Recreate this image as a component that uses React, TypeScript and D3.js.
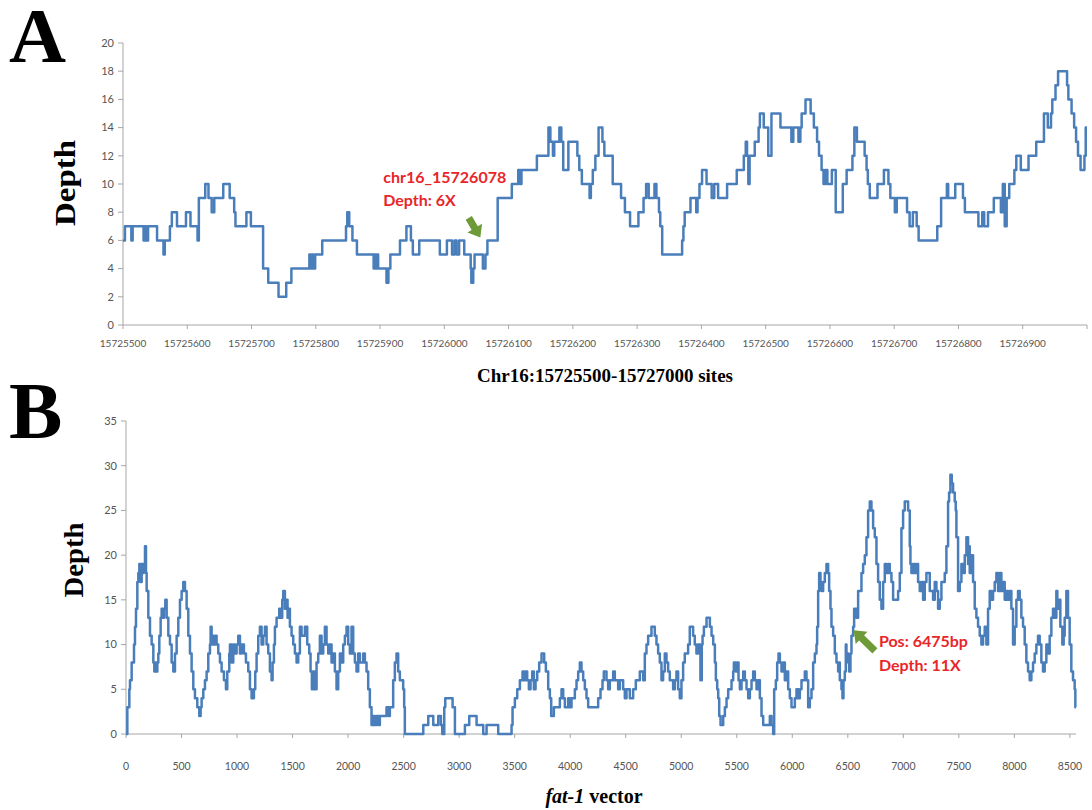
import React from 'react';
import * as d3 from 'd3';

// ---------- Panel A data (chr16 region) ----------
const START_A = 15725500;
const END_A = 15727000;
// [offset from START_A, depth] change points of a step series
const stepsA: [number, number][] = [
  [0,6],[3,7],[13,6],[15,7],[32,6],[34,7],[36,6],[39,7],[53,6],[63,5],[65,6],[73,7],[76,8],[84,7],[98,8],[105,7],[116,6],[118,9],[128,10],[133,9],[138,8],[142,9],[156,10],[166,9],[173,8],[175,7],[192,8],[199,7],[218,4],[226,3],[242,2],[254,3],[262,4],[290,5],[292,4],[294,5],[296,4],[299,5],[310,6],[347,7],[349,8],[352,7],[357,6],[364,5],[390,4],[391,5],[393,4],[395,5],[397,4],[410,3],[413,4],[416,5],[431,6],[441,7],[448,6],[451,5],[461,6],[493,5],[504,6],[512,5],[516,6],[519,5],[523,6],[531,5],[541,4],[542,3],[545,4],[547,5],[560,4],[564,5],[567,6],[583,9],[605,10],[615,11],[618,10],[620,11],[644,12],[662,14],[665,13],[669,12],[671,13],[679,14],[682,13],[685,11],[693,13],[707,12],[710,11],[714,10],[726,9],[728,10],[731,11],[735,12],[740,14],[746,13],[749,12],[762,10],[775,9],[781,8],[789,7],[802,8],[810,9],[814,10],[818,9],[827,10],[830,9],[834,8],[836,7],[839,5],[870,6],[872,7],[874,8],[883,9],[892,8],[894,9],[897,10],[901,11],[908,10],[916,9],[920,10],[926,9],[940,10],[955,11],[966,12],[969,13],[971,12],[973,10],[975,12],[983,13],[989,14],[991,15],[997,14],[1000,14],[1004,12],[1009,15],[1023,14],[1040,13],[1043,14],[1051,13],[1054,14],[1056,15],[1062,16],[1070,15],[1075,14],[1080,13],[1083,12],[1087,11],[1090,10],[1093,11],[1096,10],[1103,11],[1109,8],[1120,10],[1126,11],[1135,12],[1138,14],[1142,13],[1154,12],[1157,11],[1159,10],[1162,9],[1174,10],[1184,11],[1191,10],[1194,9],[1201,8],[1204,9],[1220,8],[1224,7],[1229,8],[1235,7],[1238,6],[1267,7],[1273,9],[1282,10],[1284,9],[1295,10],[1307,9],[1310,8],[1331,7],[1337,8],[1340,7],[1346,8],[1355,9],[1366,8],[1369,10],[1372,7],[1375,9],[1379,10],[1387,11],[1390,12],[1397,11],[1409,12],[1421,13],[1433,15],[1439,14],[1444,15],[1446,16],[1451,17],[1455,18],[1469,17],[1471,16],[1476,15],[1480,14],[1483,13],[1486,12],[1490,11],[1496,12],[1498,14],[1500,14]
];
const xTicksA = [15725500,15725600,15725700,15725800,15725900,15726000,15726100,15726200,15726300,15726400,15726500,15726600,15726700,15726800,15726900,15727000];
const xLabelsA = ['15725500','15725600','15725700','15725800','15725900','15726000','15726100','15726200','15726300','15726400','15726500','15726600','15726700','15726800','15726900',''];
const yTicksA = [0,2,4,6,8,10,12,14,16,18,20];

// ---------- Panel B data (fat-1 vector) ----------
const END_B = 8555;
const stepsB: [number, number][] = [
  [0,0],[12,3],[30,5],[36,6],[51,8],[72,10],[81,12],[90,14],[102,17],[111,18],[120,19],[132,17],[141,19],[150,18],[159,19],[171,21],[180,18],[186,16],[201,13],[216,11],[231,10],[246,8],[255,7],[264,8],[273,7],[282,8],[291,9],[300,11],[312,13],[321,14],[333,13],[342,14],[354,15],[366,13],[381,11],[396,10],[411,8],[426,7],[441,9],[456,11],[471,13],[486,15],[501,16],[516,17],[531,16],[546,14],[561,11],[576,9],[591,7],[606,5],[621,4],[642,3],[660,2],[672,3],[681,4],[696,5],[711,6],[726,7],[741,9],[756,10],[762,12],[771,10],[780,11],[792,10],[804,11],[816,10],[831,9],[846,8],[861,7],[882,6],[900,5],[912,7],[930,9],[936,10],[951,8],[966,10],[981,9],[996,10],[1011,11],[1026,9],[1041,10],[1062,9],[1080,8],[1101,7],[1116,5],[1131,4],[1152,5],[1164,7],[1176,9],[1191,11],[1206,12],[1221,10],[1236,11],[1251,12],[1266,10],[1281,9],[1296,7],[1311,6],[1320,8],[1332,10],[1341,12],[1356,13],[1380,14],[1395,13],[1407,15],[1416,16],[1431,14],[1446,15],[1455,13],[1467,14],[1476,12],[1491,11],[1506,10],[1521,9],[1536,8],[1551,9],[1566,12],[1581,11],[1611,12],[1632,10],[1650,9],[1662,7],[1674,5],[1686,7],[1698,5],[1716,8],[1731,9],[1746,11],[1761,9],[1776,10],[1791,12],[1806,10],[1821,9],[1836,10],[1851,8],[1866,9],[1881,7],[1896,5],[1911,7],[1926,9],[1941,8],[1956,10],[1971,11],[1986,12],[2001,10],[2016,9],[2031,12],[2046,9],[2061,8],[2076,7],[2091,9],[2106,8],[2136,9],[2151,8],[2166,7],[2181,5],[2196,3],[2211,1],[2226,2],[2241,1],[2256,2],[2274,1],[2286,2],[2346,3],[2364,2],[2376,3],[2406,6],[2421,8],[2436,9],[2451,7],[2466,6],[2496,5],[2505,3],[2511,0],[2677,1],[2722,2],[2767,1],[2812,2],[2836,1],[2848,0],[2866,3],[2875,4],[2941,3],[2962,0],[3052,1],[3091,2],[3157,1],[3217,0],[3247,1],[3352,0],[3472,1],[3481,3],[3502,4],[3523,5],[3547,6],[3571,7],[3586,6],[3598,7],[3613,6],[3628,5],[3643,6],[3658,7],[3673,5],[3688,6],[3703,7],[3721,8],[3742,9],[3766,8],[3781,7],[3802,5],[3817,4],[3829,2],[3853,3],[3907,4],[3922,5],[3937,4],[3952,3],[3982,4],[3997,3],[4012,4],[4042,5],[4057,6],[4072,7],[4087,8],[4102,7],[4117,6],[4132,5],[4147,4],[4162,3],[4252,4],[4273,5],[4291,6],[4303,7],[4327,6],[4342,5],[4357,6],[4387,7],[4402,6],[4432,5],[4447,6],[4477,5],[4492,4],[4507,5],[4537,4],[4567,5],[4591,6],[4627,7],[4657,6],[4672,9],[4687,10],[4702,11],[4732,12],[4762,11],[4777,10],[4792,9],[4807,8],[4822,6],[4837,7],[4852,9],[4867,8],[4882,7],[4897,6],[4927,5],[4942,6],[4957,7],[4972,5],[4987,4],[5002,6],[5017,8],[5032,9],[5062,10],[5077,12],[5107,11],[5122,10],[5137,9],[5152,10],[5173,6],[5185,10],[5192,11],[5204,12],[5228,13],[5258,12],[5273,11],[5288,10],[5303,8],[5312,6],[5324,5],[5333,4],[5342,2],[5354,1],[5378,2],[5393,3],[5408,4],[5423,5],[5453,6],[5468,7],[5474,8],[5492,7],[5504,8],[5516,6],[5528,5],[5543,6],[5558,7],[5573,6],[5588,5],[5603,4],[5618,5],[5633,6],[5648,7],[5663,6],[5678,5],[5693,6],[5708,4],[5723,2],[5738,1],[5798,2],[5813,1],[5828,0],[5837,5],[5852,6],[5864,8],[5876,9],[5888,8],[5903,7],[5918,8],[5933,6],[5948,7],[5963,5],[5978,4],[5993,3],[6023,4],[6038,5],[6053,4],[6068,5],[6083,6],[6113,7],[6128,6],[6143,3],[6158,4],[6173,5],[6188,8],[6203,9],[6218,10],[6224,12],[6233,16],[6242,18],[6254,17],[6263,16],[6278,17],[6293,18],[6308,19],[6323,18],[6332,16],[6344,14],[6353,12],[6368,11],[6383,9],[6398,8],[6413,7],[6422,8],[6428,6],[6443,5],[6452,4],[6461,6],[6473,7],[6482,10],[6488,9],[6503,8],[6512,7],[6524,9],[6533,11],[6548,12],[6557,14],[6578,13],[6593,16],[6623,18],[6638,19],[6653,20],[6668,22],[6683,25],[6698,26],[6713,25],[6728,23],[6743,22],[6758,19],[6773,17],[6788,15],[6803,14],[6818,17],[6833,19],[6848,18],[6863,19],[6878,18],[6893,17],[6908,15],[6953,16],[6968,18],[6983,23],[6998,25],[7013,26],[7043,25],[7058,21],[7064,19],[7073,18],[7088,19],[7103,18],[7118,19],[7133,17],[7148,16],[7163,17],[7178,15],[7193,17],[7208,18],[7238,16],[7268,15],[7283,17],[7298,16],[7313,14],[7328,15],[7343,17],[7373,18],[7388,21],[7403,26],[7412,27],[7424,29],[7436,28],[7448,27],[7463,26],[7472,25],[7478,22],[7493,16],[7508,17],[7523,19],[7538,18],[7553,20],[7568,22],[7583,19],[7592,21],[7598,18],[7613,20],[7628,17],[7643,14],[7658,13],[7673,12],[7688,11],[7703,10],[7718,11],[7733,12],[7748,10],[7763,14],[7778,16],[7793,15],[7808,16],[7823,17],[7838,18],[7853,16],[7868,18],[7883,16],[7898,17],[7913,15],[7928,16],[7943,15],[7958,16],[7973,14],[7988,10],[8003,12],[8018,15],[8033,16],[8048,15],[8063,13],[8078,12],[8093,10],[8108,8],[8123,7],[8138,6],[8153,7],[8168,8],[8183,9],[8198,10],[8213,11],[8228,10],[8243,8],[8258,7],[8273,8],[8288,10],[8303,9],[8318,11],[8333,13],[8348,14],[8363,13],[8378,16],[8387,14],[8402,15],[8414,12],[8432,10],[8444,11],[8453,13],[8468,16],[8483,13],[8498,10],[8513,7],[8528,6],[8543,5],[8549,3],[8555,3]
];
const xTicksB = [0,500,1000,1500,2000,2500,3000,3500,4000,4500,5000,5500,6000,6500,7000,7500,8000,8500];
const yTicksB = [0,5,10,15,20,25,30,35];

// annotations (data coordinates)
const annotA = { lines: ['chr16_15726078', 'Depth: 6X'], textPos: 15725905, textDepth: 10.1, tailPos: 15726038, tailDepth: 7.6, tipPos: 15726056, tipDepth: 6.2 };
const annotB = { lines: ['Pos: 6475bp', 'Depth: 11X'], textPos: 6780, textDepth: 9.7, tailPos: 6744, tailDepth: 9.3, tipPos: 6553, tipDepth: 11.6 };

const LINE = '#4a7ebb';
const AXIS = '#a6a6a6';
const TICKTXT = '#555555';
const RED = '#e8262a';
const GREEN = '#6f9a38';
const SERIF = '"Liberation Serif", "Times New Roman", serif';
const SANS = 'Lato, "Open Sans", sans-serif';

function arrowPoints(x1: number, y1: number, x2: number, y2: number) {
  const dx = x2 - x1, dy = y2 - y1;
  const L = Math.hypot(dx, dy);
  const ux = dx / L, uy = dy / L;
  const nx = -uy, ny = ux;
  const hw = 3.6, headW = 8.5, headL = 11;
  const bx = x2 - ux * headL, by = y2 - uy * headL;
  const pts = [
    [x1 + nx * hw, y1 + ny * hw],
    [bx + nx * hw, by + ny * hw],
    [bx + nx * headW, by + ny * headW],
    [x2, y2],
    [bx - nx * headW, by - ny * headW],
    [bx - nx * hw, by - ny * hw],
    [x1 - nx * hw, y1 - ny * hw],
  ];
  return pts.map(p => p.join(',')).join(' ');
}

export default function App() {
  // ----- Panel A scales -----
  const xA = d3.scaleLinear().domain([START_A, END_A]).range([123, 1087]);
  const yA = d3.scaleLinear().domain([0, 20]).range([325, 43]);
  const lineA = d3.line<[number, number]>()
    .x(d => xA(START_A + d[0]))
    .y(d => yA(d[1]))
    .curve(d3.curveStepAfter);

  // ----- Panel B scales -----
  const xB = d3.scaleLinear().domain([0, END_B]).range([126, 1076]);
  const yB = d3.scaleLinear().domain([0, 35]).range([734, 421]);
  const lineB = d3.line<[number, number]>()
    .x(d => xB(d[0]))
    .y(d => yB(d[1]))
    .curve(d3.curveStepAfter);

  const aTail = [xA(annotA.tailPos), yA(annotA.tailDepth)];
  const aTip = [xA(annotA.tipPos), yA(annotA.tipDepth)];
  const bTail = [xB(annotB.tailPos), yB(annotB.tailDepth)];
  const bTip = [xB(annotB.tipPos), yB(annotB.tipDepth)];

  return (
    <svg width={1092} height={810} style={{ position: 'absolute', left: 0, top: 0, background: '#fff' }}>
      <rect x={0} y={0} width={1092} height={810} fill="#fff" />

      {/* ================= Panel A ================= */}
      <text x={9} y={62} fontFamily={SERIF} fontWeight="bold" fontSize={79} fill="#000">A</text>
      <text transform={`translate(75,183) rotate(-90)`} textAnchor="middle" fontFamily={SERIF} fontWeight="bold" fontSize={29} textLength={86} lengthAdjust="spacingAndGlyphs" fill="#000">Depth</text>

      {/* y axis */}
      <line x1={xA.range()[0]} x2={xA.range()[0]} y1={yA(0)} y2={yA(20)} stroke={AXIS} strokeWidth={1} />
      {yTicksA.map(t => (
        <g key={'ya' + t}>
          <line x1={xA.range()[0] - 5} x2={xA.range()[0]} y1={yA(t)} y2={yA(t)} stroke={AXIS} />
          <text x={xA.range()[0] - 9} y={yA(t)} dy="0.35em" textAnchor="end" fontFamily={SANS} fontSize={11} fill={TICKTXT}>{t}</text>
        </g>
      ))}
      {/* x axis */}
      <line x1={xA.range()[0]} x2={xA.range()[1]} y1={yA(0)} y2={yA(0)} stroke={AXIS} strokeWidth={1} />
      {xTicksA.map((t, i) => (
        <g key={'xa' + t}>
          <line x1={xA(t)} x2={xA(t)} y1={yA(0)} y2={yA(0) + 4} stroke={AXIS} />
          <text x={xA(t)} y={yA(0) + 22} textAnchor="middle" fontFamily={SANS} fontSize={10} fill={TICKTXT}>{xLabelsA[i]}</text>
        </g>
      ))}
      <path d={lineA(stepsA) || ''} fill="none" stroke={LINE} strokeWidth={2.5} strokeLinejoin="round" />

      <text x={xA(annotA.textPos)} y={yA(annotA.textDepth)} fontFamily={SANS} fontWeight="bold" fontSize={16} fill={RED}>{annotA.lines[0]}</text>
      <text x={xA(annotA.textPos)} y={yA(annotA.textDepth) + 23} fontFamily={SANS} fontWeight="bold" fontSize={16} fill={RED}>{annotA.lines[1]}</text>
      <polygon points={arrowPoints(aTail[0], aTail[1], aTip[0], aTip[1])} fill={GREEN} />

      <text x={605} y={382} textAnchor="middle" fontFamily={SERIF} fontWeight="bold" fontSize={19} fill="#000">Chr16:15725500-15727000 sites</text>

      {/* ================= Panel B ================= */}
      <text x={9} y={438} fontFamily={SERIF} fontWeight="bold" fontSize={80} fill="#000">B</text>
      <text transform={`translate(83,560) rotate(-90)`} textAnchor="middle" fontFamily={SERIF} fontWeight="bold" fontSize={28} textLength={75} lengthAdjust="spacingAndGlyphs" fill="#000">Depth</text>

      <line x1={xB.range()[0]} x2={xB.range()[0]} y1={yB(0)} y2={yB(35)} stroke={AXIS} strokeWidth={1} />
      {yTicksB.map(t => (
        <g key={'yb' + t}>
          <line x1={xB.range()[0] - 5} x2={xB.range()[0]} y1={yB(t)} y2={yB(t)} stroke={AXIS} />
          <text x={xB.range()[0] - 9} y={yB(t)} dy="0.35em" textAnchor="end" fontFamily={SANS} fontSize={11} fill={TICKTXT}>{t}</text>
        </g>
      ))}
      <line x1={xB.range()[0]} x2={xB.range()[1]} y1={yB(0)} y2={yB(0)} stroke={AXIS} strokeWidth={1} />
      {xTicksB.map(t => (
        <g key={'xb' + t}>
          <line x1={xB(t)} x2={xB(t)} y1={yB(0)} y2={yB(0) + 4} stroke={AXIS} />
          <text x={xB(t)} y={yB(0) + 36} textAnchor="middle" fontFamily={SANS} fontSize={10.5} fill={TICKTXT}>{t}</text>
        </g>
      ))}
      <path d={lineB(stepsB) || ''} fill="none" stroke={LINE} strokeWidth={2.5} strokeLinejoin="round" />

      <text x={xB(annotB.textPos)} y={yB(annotB.textDepth)} fontFamily={SANS} fontWeight="bold" fontSize={16} fill={RED}>{annotB.lines[0]}</text>
      <text x={xB(annotB.textPos)} y={yB(annotB.textDepth) + 24} fontFamily={SANS} fontWeight="bold" fontSize={16} fill={RED}>{annotB.lines[1]}</text>
      <polygon points={arrowPoints(bTail[0], bTail[1], bTip[0], bTip[1])} fill={GREEN} />

      <text x={594} y={803} textAnchor="middle" fontFamily={SERIF} fontWeight="bold" fontSize={20} fill="#000">
        <tspan fontStyle="italic">fat-1</tspan> vector
      </text>
    </svg>
  );
}
